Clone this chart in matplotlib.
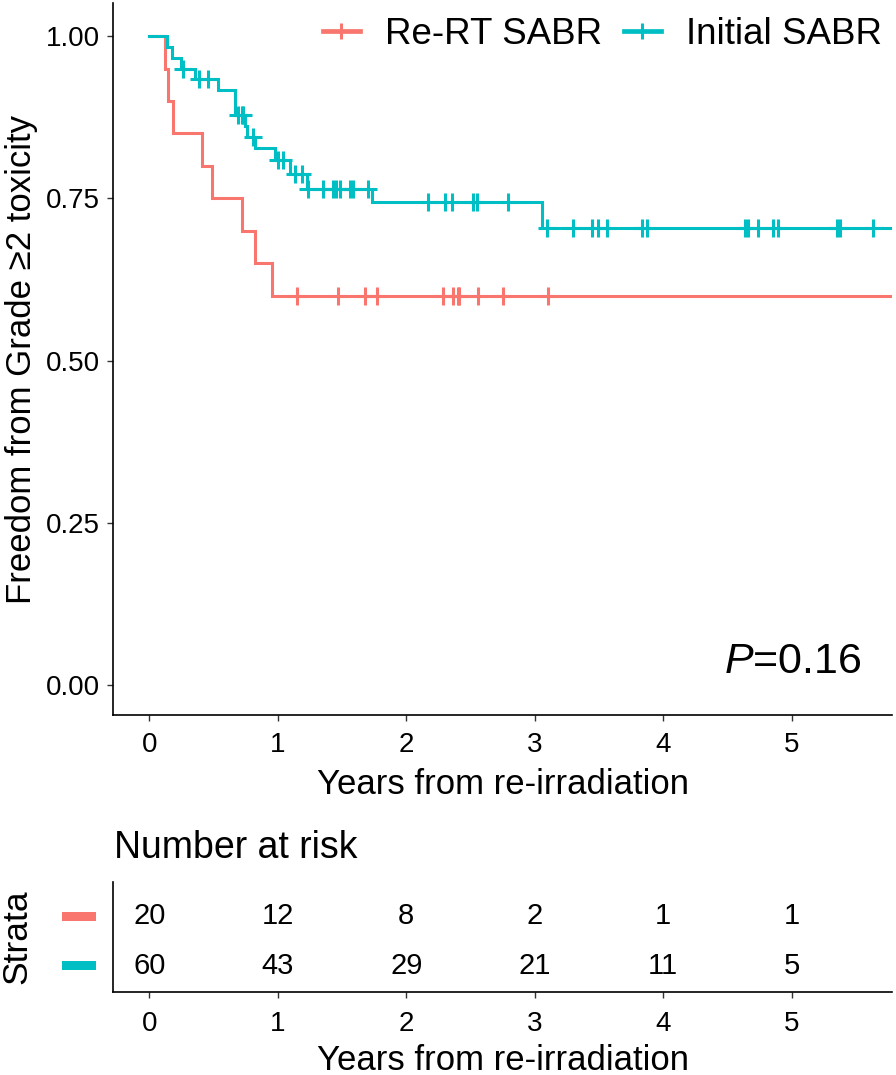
import numpy as np
import matplotlib
matplotlib.use("Agg")
import matplotlib.pyplot as plt
from matplotlib.lines import Line2D
from matplotlib.patches import Rectangle
import matplotlib.transforms as mtransforms

plt.rcParams['font.family'] = ['Liberation Sans', 'DejaVu Sans']
plt.rcParams['mathtext.fontset'] = 'custom'
plt.rcParams['mathtext.it'] = 'Liberation Sans:italic'
plt.rcParams['mathtext.rm'] = 'Liberation Sans'

# ---------------- data ----------------
group_names = ["Re-RT SABR", "Initial SABR"]
group_colors = ["#F8766D", "#00BFC4"]

red_event_t = [0.122, 0.148, 0.187, 0.41, 0.486, 0.724, 0.823, 0.957]
red_surv = [0.95, 0.90, 0.85, 0.80, 0.75, 0.70, 0.65, 0.60]
red_censor_t = [1.147, 1.471, 1.679, 1.770, 2.288, 2.366, 2.40, 2.412, 2.560, 2.750, 3.105]
red_last_t = 5.78

teal_event_t = [0.140, 0.174, 0.244, 0.356, 0.537, 0.667, 0.745, 0.760, 0.823,
                0.978, 1.095, 1.225, 1.731, 3.054]
teal_surv = [0.983, 0.967, 0.950, 0.934, 0.917, 0.879, 0.862, 0.845, 0.828,
             0.809, 0.788, 0.765, 0.744, 0.705]
teal_censor_t = [0.265, 0.389, 0.459, 0.693, 0.719, 0.732, 0.81, 1.004, 1.043,
                 1.134, 1.186, 1.237, 1.349, 1.432, 1.453, 1.484, 1.562, 1.588,
                 1.704, 2.171, 2.301, 2.353, 2.521, 2.548, 2.794, 3.093, 3.30,
                 3.443, 3.495, 3.56, 3.832, 3.871, 4.636, 4.662, 4.74, 4.856,
                 4.895, 5.349, 5.375, 5.63]
teal_last_t = 5.78

risk_times = [0, 1, 2, 3, 4, 5]
risk_red = [20, 12, 8, 2, 1, 1]
risk_teal = [60, 43, 29, 21, 11, 5]

x_ticks = [0, 1, 2, 3, 4, 5]
y_ticks = [0.00, 0.25, 0.50, 0.75, 1.00]
y_ticklabels = ["0.00", "0.25", "0.50", "0.75", "1.00"]
p_text = r"$\mathit{P}$=0.16"

# ---------------- figure ----------------
W, H = 896, 1075
fig = plt.figure(figsize=(W / 100, H / 100), dpi=100)

def fx(px):
    return px / W

def fy(py):
    return 1 - py / H

left_px, right_px = 113.3, 892
ax = fig.add_axes([fx(left_px), fy(715), fx(right_px - left_px), (715 - 3) / H])
axr = fig.add_axes([fx(left_px), fy(992.3), fx(right_px - left_px), (992.3 - 881.7) / H])

xlim = (-0.28, 5.78)

def step_arrays(ev_t, surv, last_t):
    t = np.concatenate([[0.0], ev_t, [last_t]])
    s = np.concatenate([[1.0], surv, [surv[-1]]])
    return t, s

def surv_at(ev_t, surv, times):
    idx = np.searchsorted(np.asarray(ev_t), np.asarray(times), side='right')
    s = np.concatenate([[1.0], surv])
    return s[idx]

curves = [(red_event_t, red_surv, red_censor_t, red_last_t),
          (teal_event_t, teal_surv, teal_censor_t, teal_last_t)]

handles = []
for (ev, sv, cen, last), col, name in zip(curves, group_colors, group_names):
    t, s = step_arrays(ev, sv, last)
    ax.step(t, s, where='post', color=col, lw=2.2, solid_joinstyle='miter', zorder=3)
    ax.plot(cen, surv_at(ev, sv, cen), ls='none', marker='+', ms=13, mew=2.2,
            color=col, zorder=4)
    handles.append(Line2D([], [], color=col, lw=3.4, marker='+', ms=12, mew=2.2, label=name))

ax.set_xlim(*xlim)
ax.set_ylim(-0.046, 1.051)
ax.set_xticks(x_ticks)
ax.set_yticks(y_ticks)
ax.set_yticklabels(y_ticklabels)
for sp in ['top', 'right']:
    ax.spines[sp].set_visible(False)
for sp in ['left', 'bottom']:
    ax.spines[sp].set_linewidth(1.2)
    ax.spines[sp].set_color('black')
ax.tick_params(axis='both', labelsize=20, length=4.5, width=1.0, color='#333333',
               labelcolor='black')
ax.tick_params(axis='x', pad=8)
ax.tick_params(axis='y', pad=5)
ax.set_xlabel("Years from re-irradiation", fontsize=25, labelpad=7)
ax.set_ylabel("Freedom from Grade \u22652 toxicity", fontsize=25)
ax.yaxis.set_label_coords((21 - left_px) / (right_px - left_px), 0.5)
ax.yaxis.label.set_va('center')

leg = ax.legend(handles=handles, loc='center right', bbox_to_anchor=(0.987, 0.956),
                ncol=2, frameon=False, fontsize=26.5, handlelength=1.0,
                handletextpad=0.68, columnspacing=0.6, borderpad=0, borderaxespad=0)

ax.text(4.47, 0.035, p_text, fontsize=31, ha='left', va='center')

# ---------------- risk table ----------------
axr.set_xlim(*xlim)
axr.set_ylim(-0.53, 1.69)
rows = [1, 0]
for row, vals in zip(rows, [risk_red, risk_teal]):
    for tt, v in zip(risk_times, vals):
        axr.text(tt, row, str(v), fontsize=21, ha='center', va='center')
axr.set_xticks(x_ticks)
axr.set_yticks([])
for sp in ['top', 'right']:
    axr.spines[sp].set_visible(False)
for sp in ['left', 'bottom']:
    axr.spines[sp].set_linewidth(1.2)
    axr.spines[sp].set_color('black')
axr.tick_params(axis='x', labelsize=20, length=4.5, width=1.0, color='#333333', pad=9)
axr.set_xlabel("Years from re-irradiation", fontsize=25, labelpad=5)
axr.set_ylabel("Strata", fontsize=25.5)
axr.yaxis.set_label_coords((17 - left_px) / (right_px - left_px), 0.5)
axr.yaxis.label.set_va('center')

blend = mtransforms.blended_transform_factory(axr.transAxes, axr.transData)
bx0 = (62 - left_px) / (right_px - left_px)
bw = 34 / (right_px - left_px)
for row, col in zip(rows, group_colors):
    axr.add_patch(Rectangle((bx0, row - 0.09), bw, 0.18, transform=blend,
                            facecolor=col, edgecolor='none', clip_on=False))

fig.text(fx(114), fy(848), "Number at risk", fontsize=27, ha='left', va='center')

fig.savefig("out.png", dpi=100)
